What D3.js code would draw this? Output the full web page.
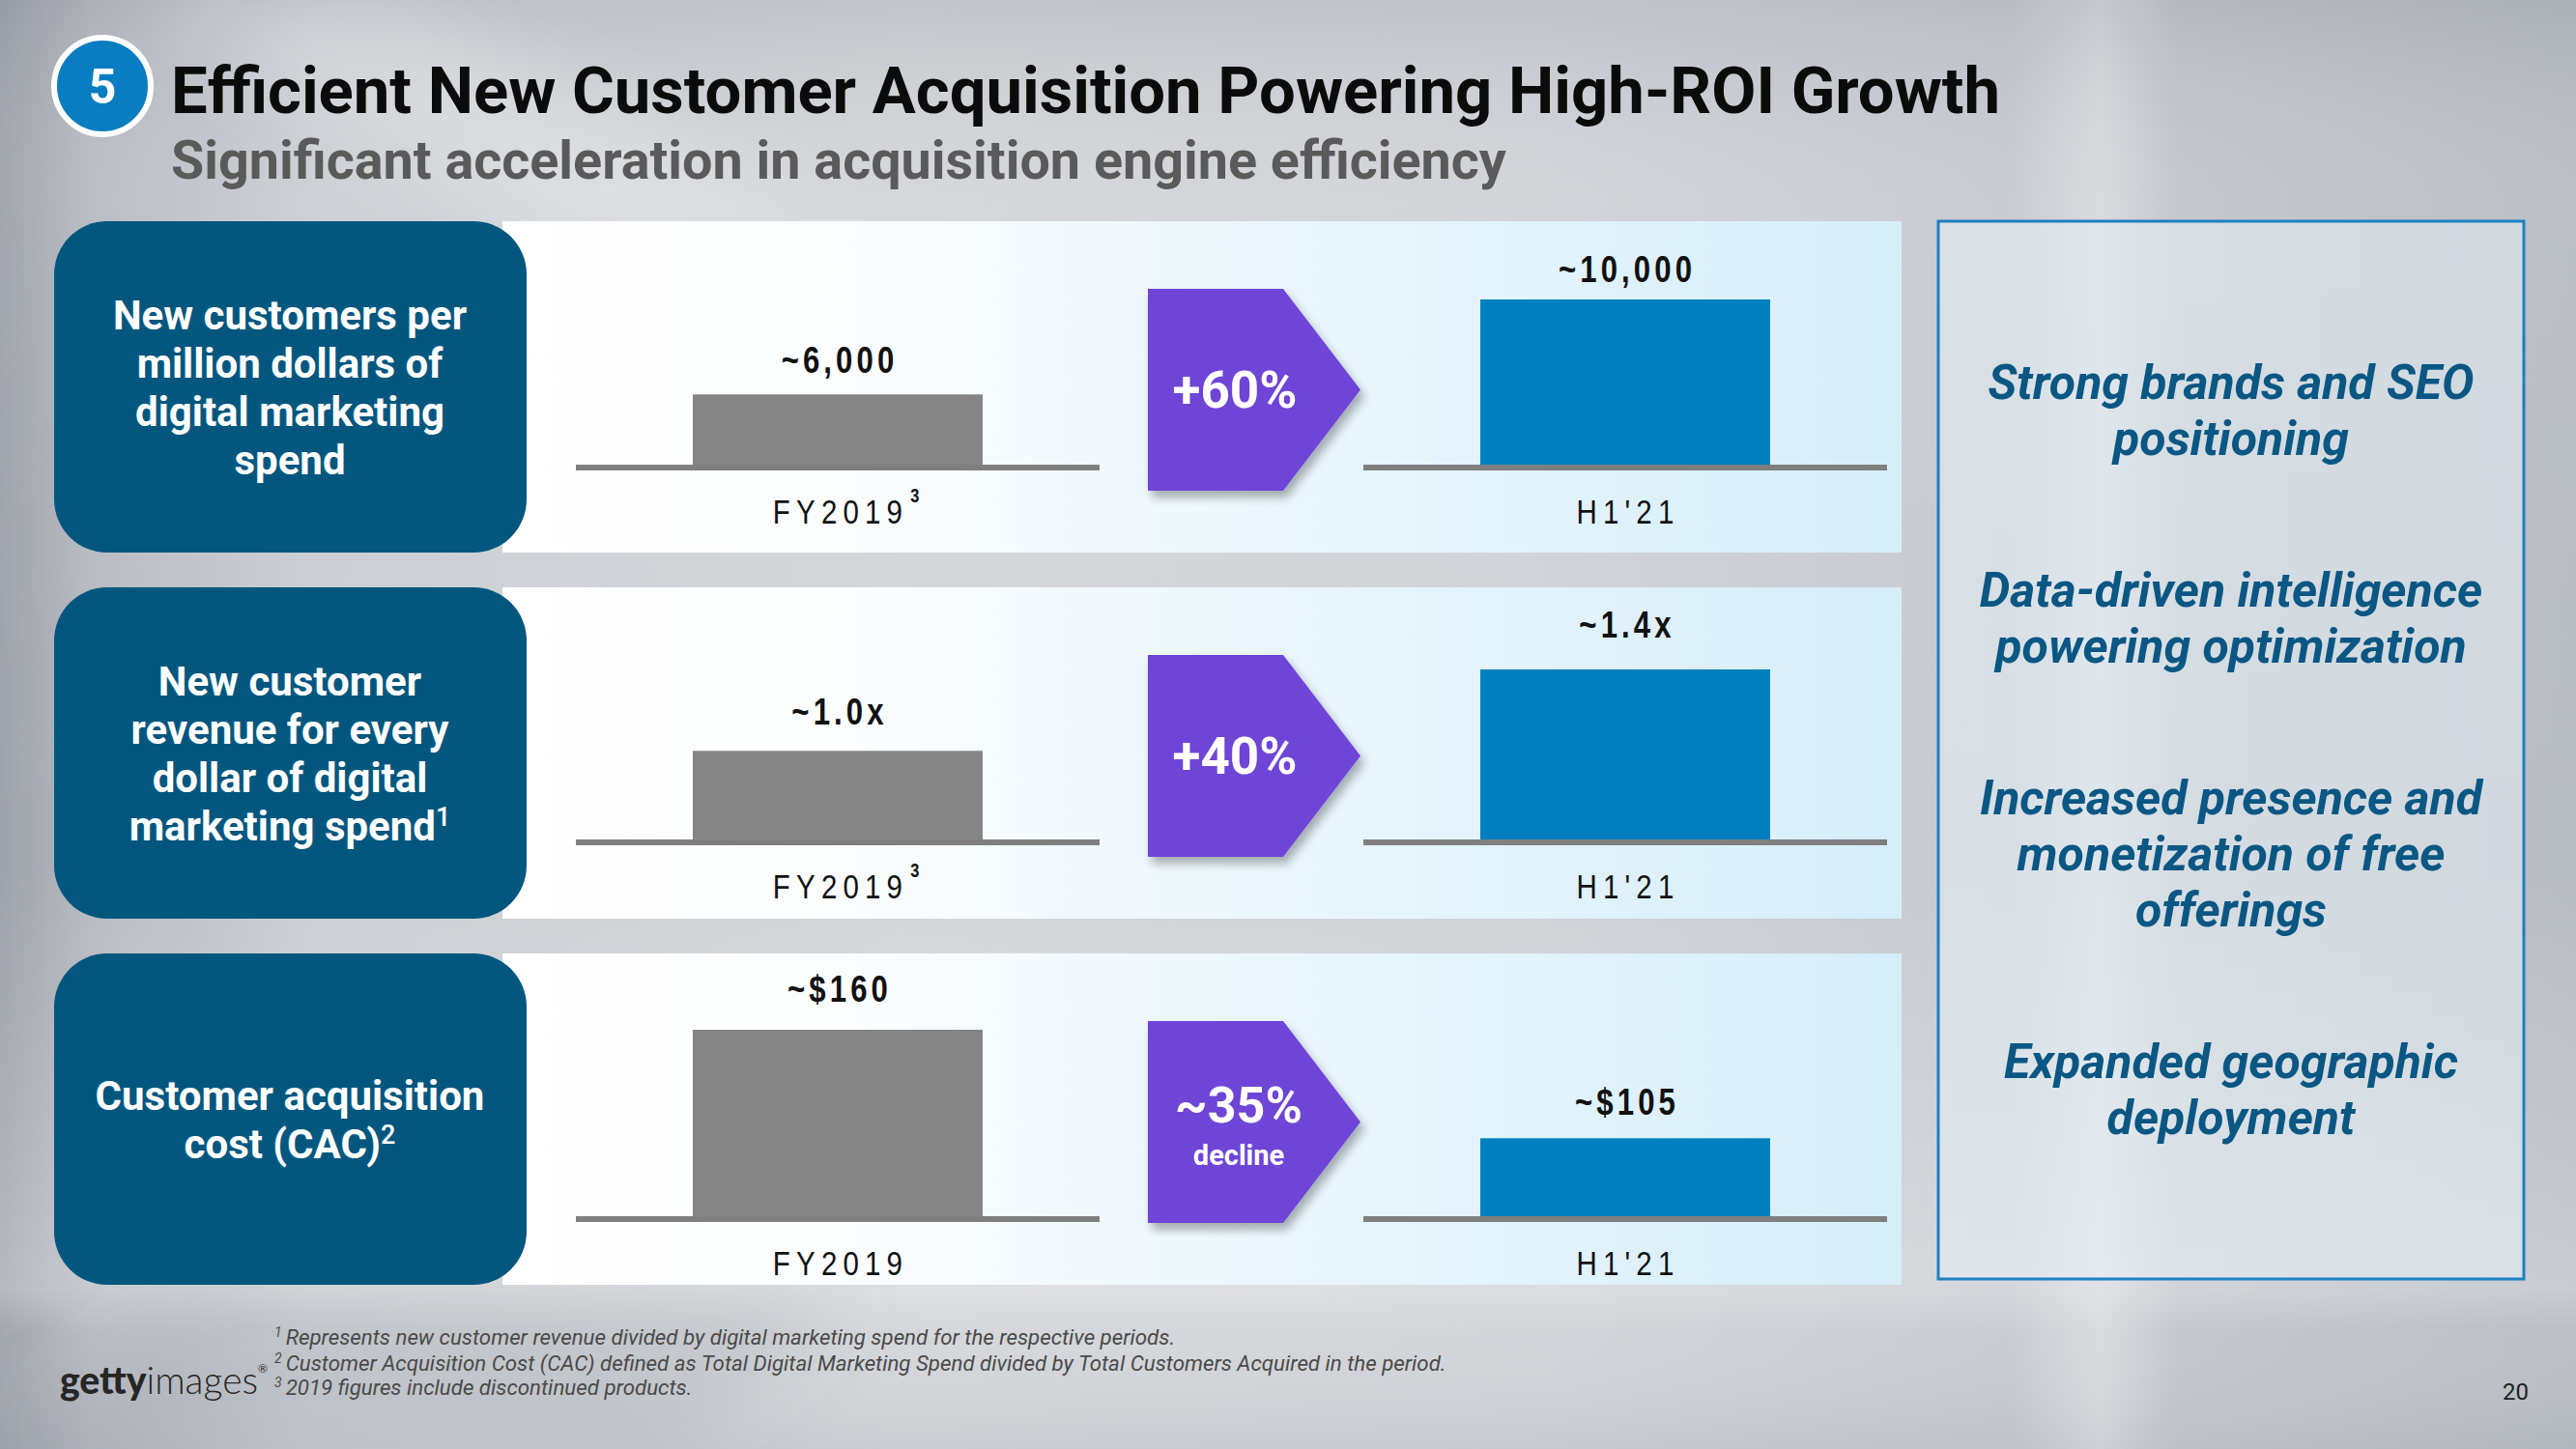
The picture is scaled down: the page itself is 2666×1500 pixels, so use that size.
<!DOCTYPE html>
<html><head><meta charset="utf-8">
<script src="https://cdn.jsdelivr.net/npm/d3@7"></script>
<style>html,body{margin:0;padding:0;background:#c8cbd1;overflow:hidden} svg{display:block}</style>
</head><body><svg id="chart" width="2666" height="1500"></svg>
<script>
// ---------- data ----------
const title = "Efficient New Customer Acquisition Powering High-ROI Growth";
const subtitle = "Significant acceleration in acquisition engine efficiency";
const sectionNumber = "5";
const periods = ["FY2019", "H1'21"];
const periodNotes = [["3", ""], ["3", ""], ["", ""]];
const metricLabels = [
  ["New customers per", "million dollars of", "digital marketing", "spend"],
  ["New customer", "revenue for every", "dollar of digital", "marketing spend"],
  ["Customer acquisition", "cost (CAC)"]
];
const metricLabelNotes = ["", "1", "2"];
const newCustomersPerMillion = [6000, 10000];
const revenuePerDollar = [1.0, 1.4];
const acquisitionCost = [160, 105];
const seriesValues = [newCustomersPerMillion, revenuePerDollar, acquisitionCost];
const valueLabels = [["~6,000", "~10,000"], ["~1.0x", "~1.4x"], ["~$160", "~$105"]];
const changeLabels = ["+60%", "+40%", "~35%"];
const changeSubLabels = ["", "", "decline"];
const scaleFloors = [3000, 0.56, 65];   // bars in the slide do not start at zero
const drivers = [
  ["Strong brands and SEO", "positioning"],
  ["Data-driven intelligence", "powering optimization"],
  ["Increased presence and", "monetization of free", "offerings"],
  ["Expanded geographic", "deployment"]
];
const footnotes = [
  ["1", "Represents new customer revenue divided by digital marketing spend for the respective periods."],
  ["2", "Customer Acquisition Cost (CAC) defined as Total Digital Marketing Spend divided by Total Customers Acquired in the period."],
  ["3", "2019 figures include discontinued products."]
];
const pageNumber = "20";

// ---------- layout ----------
const W = 2666, H = 1500;
const rowTops = [229, 608, 987];
const rowH = 343;
const barBase = [482, 870, 1260];
const barTopHeight = [172, 177, 194];
const labelGap = [[22, 18], [27, 33], [29, 24]];
const svg = d3.select("#chart");
const defs = svg.append("defs");

// background
const bg = defs.append("linearGradient").attr("id", "bg").attr("x1", 0).attr("x2", 1).attr("y1", 0).attr("y2", 0);
[[0, "#9da1a9"], [0.035, "#b7bac1"], [0.12, "#cbced3"], [0.35, "#d3d5d9"], [0.6, "#d0d2d7"], [0.78, "#c6c9cf"], [0.815, "#d7d9dd"], [0.845, "#c2c5cb"], [1, "#b7bbc2"]]
  .forEach(([o, c]) => bg.append("stop").attr("offset", o).attr("stop-color", c));
svg.append("rect").attr("width", W).attr("height", H).attr("fill", "url(#bg)");
const vg = defs.append("linearGradient").attr("id", "vg").attr("x1", 0).attr("x2", 0).attr("y1", 0).attr("y2", 1);
[[0, "rgba(120,125,135,0.18)"], [0.15, "rgba(255,255,255,0.05)"], [0.6, "rgba(255,255,255,0)"], [0.89, "rgba(255,255,255,0.25)"], [0.92, "rgba(255,255,255,0.05)"], [1, "rgba(150,155,165,0.15)"]]
  .forEach(([o, c]) => vg.append("stop").attr("offset", o).attr("stop-color", c));
svg.append("rect").attr("width", W).attr("height", H).attr("fill", "url(#vg)");
const blur = defs.append("filter").attr("id", "blur").attr("x", "-50%").attr("y", "-50%").attr("width", "200%").attr("height", "200%");
blur.append("feGaussianBlur").attr("stdDeviation", 40);
svg.append("path").attr("d", "M120,0 L420,0 L900,260 L600,260 Z").attr("fill", "rgba(255,255,255,0.25)").attr("filter", "url(#blur)");
svg.append("path").attr("d", "M200,1330 L900,1330 L700,1500 L0,1500 Z").attr("fill", "rgba(120,125,135,0.15)").attr("filter", "url(#blur)");

// drop shadow
const sh = defs.append("filter").attr("id", "shadow").attr("x", "-20%").attr("y", "-20%").attr("width", "150%").attr("height", "150%");
sh.append("feDropShadow").attr("dx", 4).attr("dy", 7).attr("stdDeviation", 5).attr("flood-color", "#000").attr("flood-opacity", 0.3);

// panel gradient
const pg = defs.append("linearGradient").attr("id", "panel").attr("x1", 0).attr("x2", 1).attr("y1", 0).attr("y2", 0);
[[0, "#ffffff"], [0.25, "#fbfdfe"], [0.6, "#e8f5fc"], [1, "#d6eefa"]]
  .forEach(([o, c]) => pg.append("stop").attr("offset", o).attr("stop-color", c));

// ---------- header ----------
svg.append("circle").attr("cx", 106).attr("cy", 89).attr("r", 50).attr("fill", "#0a7cc1").attr("stroke", "#fff").attr("stroke-width", 6);
svg.append("text").attr("x", 106).attr("y", 107).attr("text-anchor", "middle")
  .attr("font-family", "Roboto").attr("font-weight", 700).attr("font-size", 50).attr("fill", "#fff").text(sectionNumber);
svg.append("text").attr("x", 177).attr("y", 117)
  .attr("font-family", "Roboto").attr("font-weight", 700).attr("font-size", 67).attr("fill", "#0b0b0b").text(title);
svg.append("text").attr("x", 177).attr("y", 185)
  .attr("font-family", "Roboto").attr("font-weight", 700).attr("font-size", 55.7).attr("fill", "#5a5a5a").text(subtitle);

// ---------- rows ----------
const x = d3.scalePoint().domain(periods).range([867, 1682]);
const barW = 300, lineHalf = 271;
const barColors = ["#858585", "#0080c0"];
const numFont = "'Liberation Sans', Arial, sans-serif";
const narrow = 0.82;

rowTops.forEach((top, r) => {
  const g = svg.append("g");
  // panel
  g.append("rect").attr("x", 520).attr("y", top).attr("width", 1968 - 520).attr("height", rowH).attr("fill", "url(#panel)");
  // metric box
  g.append("rect").attr("x", 56).attr("y", top).attr("width", 489).attr("height", rowH).attr("rx", 55).attr("ry", 55).attr("fill", "#03577f");
  const lines = metricLabels[r];
  const cy = top + rowH / 2;
  const lh = 50;
  const t = g.append("text").attr("text-anchor", "middle").attr("font-family", "Roboto").attr("font-weight", 700)
    .attr("font-size", 42).attr("fill", "#fff");
  lines.forEach((ln, i) => {
    t.append("tspan").attr("x", 300).attr("y", cy - (lines.length - 1) * lh / 2 + 15 + i * lh).text(ln);
    if (i === lines.length - 1 && metricLabelNotes[r]) {
      t.append("tspan").attr("dy", -15).attr("font-size", 27).attr("font-weight", 500).text(metricLabelNotes[r]);
    }
  });

  // bars
  const vals = seriesValues[r];
  const y = d3.scaleLinear().domain([scaleFloors[r], d3.max(vals)]).range([barBase[r], barBase[r] - barTopHeight[r]]);
  periods.forEach((p, i) => {
    const cx = x(p);
    g.append("rect").attr("x", cx - barW / 2).attr("y", y(vals[i])).attr("width", barW)
      .attr("height", y(scaleFloors[r]) - y(vals[i])).attr("fill", barColors[i]);
    g.append("rect").attr("x", cx - lineHalf).attr("y", barBase[r] - 1).attr("width", lineHalf * 2).attr("height", 6).attr("fill", "#7f7f7f");
    g.append("text").attr("transform", `translate(${cx + 2},${y(vals[i]) - labelGap[r][i]}) scale(${narrow},1)`).attr("text-anchor", "middle")
      .attr("font-family", numFont).attr("font-weight", 700).attr("font-size", 38).attr("letter-spacing", 5)
      .attr("fill", "#111").text(valueLabels[r][i]);
    const pl = g.append("text").attr("transform", `translate(${cx + 3},${barBase[r] + 60}) scale(${narrow},1)`).attr("text-anchor", "middle")
      .attr("font-family", numFont).attr("font-size", 36).attr("letter-spacing", 7.5).attr("fill", "#111").text(p);
    if (periodNotes[r][i]) {
      const bb = pl.node().getBBox();
      g.append("text").attr("transform", `translate(${cx + 3 + (bb.x + bb.width) * narrow + 2},${barBase[r] + 38}) scale(${narrow},1)`)
        .attr("font-family", numFont).attr("font-weight", 700).attr("font-size", 20).attr("fill", "#111").text(periodNotes[r][i]);
    }
  });

  // change arrow
  const ay = top + 70, ah = 209, ax = 1188;
  g.append("path").attr("d", `M${ax},${ay} H${ax + 140} L${ax + 220},${ay + ah / 2} L${ax + 140},${ay + ah} H${ax} Z`)
    .attr("fill", "#6e44d6").attr("filter", "url(#shadow)");
  const tipY = ay + ah / 2;
  if (changeSubLabels[r]) {
    g.append("text").attr("x", 1282).attr("y", tipY).attr("text-anchor", "middle").attr("font-family", "Roboto").attr("font-weight", 700)
      .attr("font-size", 52).attr("fill", "#fff").text(changeLabels[r]);
    g.append("text").attr("x", 1282).attr("y", tipY + 44).attr("text-anchor", "middle").attr("font-family", "Roboto").attr("font-weight", 700)
      .attr("font-size", 29).attr("fill", "#fff").text(changeSubLabels[r]);
  } else {
    g.append("text").attr("x", 1278).attr("y", tipY + 18).attr("text-anchor", "middle").attr("font-family", "Roboto").attr("font-weight", 700)
      .attr("font-size", 53).attr("fill", "#fff").text(changeLabels[r]);
  }
});

// ---------- drivers box ----------
svg.append("rect").attr("x", 2006).attr("y", 229).attr("width", 606).attr("height", 1095)
  .attr("fill", "rgba(232,243,250,0.5)").attr("stroke", "#1d80c3").attr("stroke-width", 3);
let yy = 413;
drivers.forEach((grp) => {
  const t = svg.append("text").attr("text-anchor", "middle").attr("font-family", "Roboto").attr("font-weight", 700)
    .attr("font-style", "italic").attr("font-size", 50).attr("fill", "#0b5784");
  grp.forEach((ln, i) => {
    t.append("tspan").attr("x", 2309).attr("y", yy).text(ln);
    if (i < grp.length - 1) yy += 58;
  });
  yy += 157;
});

// ---------- footer ----------
const fy = [1392, 1419, 1444];
footnotes.forEach(([n, txt], i) => {
  const t = svg.append("text").attr("x", 284).attr("y", fy[i]).attr("font-family", "Roboto").attr("font-style", "italic")
    .attr("font-size", 22.3).attr("fill", "#4a4a4a");
  t.append("tspan").attr("dy", -8).attr("font-size", 14).text(n);
  t.append("tspan").attr("dy", 8).attr("dx", 4).text(txt);
});
const logo = svg.append("text").attr("x", 62).attr("y", 1443).attr("font-family", "Lato").attr("font-size", 39).attr("fill", "#262626");
logo.append("tspan").attr("font-weight", 900).text("getty");
logo.append("tspan").attr("font-weight", 300).text("images");
logo.append("tspan").attr("font-size", 12).attr("dy", -22).text("®");
svg.append("text").attr("x", 2617).attr("y", 1449).attr("text-anchor", "end").attr("font-family", "Roboto")
  .attr("font-size", 24).attr("fill", "#222").text(pageNumber);
</script></body></html>
